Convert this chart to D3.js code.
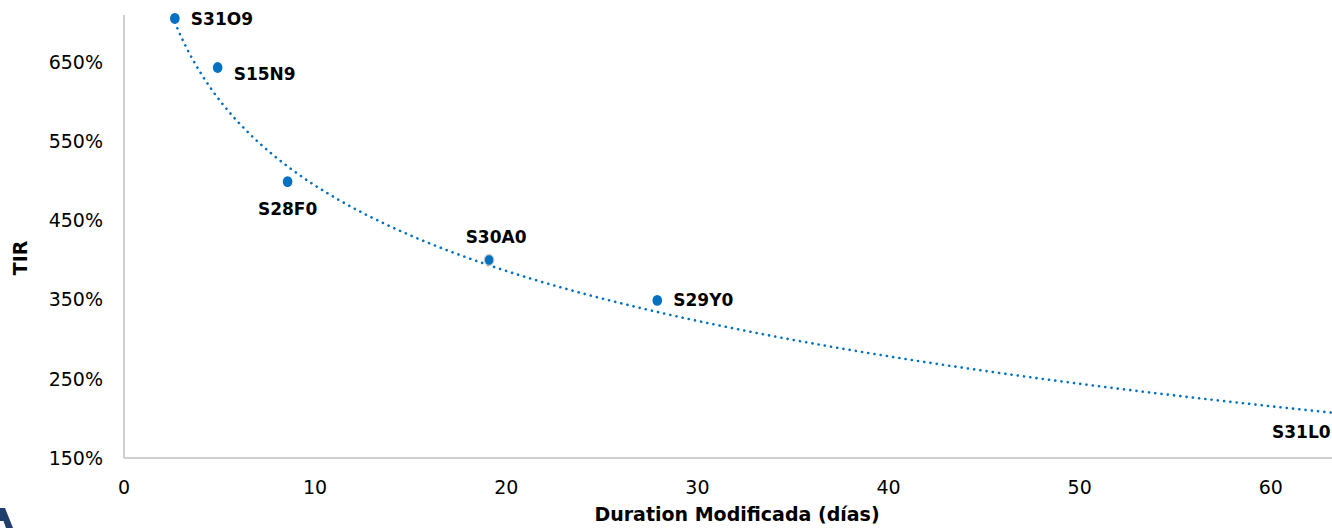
<!DOCTYPE html>
<html>
<head>
<meta charset="utf-8">
<script src="https://cdn.jsdelivr.net/npm/d3@7"></script>
<style>
  body { margin: 0; background: #fff; }
  svg { display: block; }
</style>
</head>
<body>
<div id="chart"></div>
<script>
// bonds: duration (days) vs TIR (%)
var bond_names = ["S31O9", "S15N9", "S28F0", "S30A0", "S29Y0", "S31L0"];
var durations  = [2.66, 4.9, 8.56, 19.1, 27.9, 64.8];
var tir_values = [705, 643, 499, 400, 349, 183];
// where each label sits relative to its point
var label_pos  = ["right", "right", "below", "above", "right", "left"];

var x_ticks = [0, 10, 20, 30, 40, 50, 60];
var y_ticks = [150, 250, 350, 450, 550, 650];

// log trendline shown on the chart: TIR = a + b * ln(duration)
var trend_a = 852;
var trend_b = -155.5;

var width = 1332, height = 528;
var left = 124, right = 1332, top_ = 15, bottom = 458;
var blue = "#0070C0";
var axis_grey = "#BFBFBF";
var font = "'DejaVu Sans', Verdana, sans-serif";

var svg = d3.select("#chart").append("svg")
  .attr("width", width)
  .attr("height", height);

var x = d3.scaleLinear().domain([0, 63.2]).range([left, right]);
var y = d3.scaleLinear().domain([150, 709.3]).range([bottom, top_]);

svg.append("clipPath").attr("id", "plot_clip")
  .append("rect")
  .attr("x", left).attr("y", top_ - 10)
  .attr("width", right - left).attr("height", bottom - top_ + 10);

// axes lines
svg.append("line")
  .attr("x1", left).attr("x2", left)
  .attr("y1", top_).attr("y2", bottom)
  .attr("stroke", axis_grey).attr("stroke-width", 1.5);
svg.append("line")
  .attr("x1", left).attr("x2", right)
  .attr("y1", bottom).attr("y2", bottom)
  .attr("stroke", axis_grey).attr("stroke-width", 1.5);

// tick labels
svg.append("g").selectAll("text")
  .data(y_ticks)
  .enter().append("text")
  .attr("x", left - 21)
  .attr("y", function(d) { return y(d); })
  .attr("dy", "0.36em")
  .attr("text-anchor", "end")
  .style("font", "19px " + font)
  .attr("fill", "#000")
  .text(function(d) { return d + "%"; });

svg.append("g").selectAll("text")
  .data(x_ticks)
  .enter().append("text")
  .attr("x", function(d) { return x(d); })
  .attr("y", 487)
  .attr("dy", "0.36em")
  .attr("text-anchor", "middle")
  .style("font", "19px " + font)
  .attr("fill", "#000")
  .text(function(d) { return d; });

// axis titles
svg.append("text")
  .attr("x", 737)
  .attr("y", 521)
  .attr("text-anchor", "middle")
  .style("font", "bold 19px " + font)
  .attr("fill", "#000")
  .text("Duration Modificada (días)");

svg.append("text")
  .attr("transform", "translate(27,258) rotate(-90)")
  .attr("text-anchor", "middle")
  .style("font", "bold 19px " + font)
  .attr("fill", "#000")
  .text("TIR");

// trendline (dotted), from first to last bond, clipped to plot
var x_min = d3.min(durations), x_max = d3.max(durations);
var trend_pts = d3.range(0, 201).map(function(i) {
  var d = x_min + (x_max - x_min) * i / 200;
  return [d, trend_a + trend_b * Math.log(d)];
});
svg.append("path")
  .datum(trend_pts)
  .attr("clip-path", "url(#plot_clip)")
  .attr("fill", "none")
  .attr("stroke", blue)
  .attr("stroke-width", 2.6)
  .attr("stroke-linecap", "round")
  .attr("stroke-dasharray", "0.1,6.2")
  .attr("d", d3.line()
    .x(function(d) { return x(d[0]); })
    .y(function(d) { return y(d[1]); }));

// points
var bonds = bond_names.map(function(n, i) {
  return { name: n, dur: durations[i], tir: tir_values[i], pos: label_pos[i] };
});

svg.append("g")
  .attr("clip-path", "url(#plot_clip)")
  .selectAll("ellipse")
  .data(bonds)
  .enter().append("ellipse")
  .attr("cx", function(d) { return x(d.dur); })
  .attr("cy", function(d) { return y(d.tir); })
  .attr("rx", 4.8)
  .attr("ry", 5.4)
  .attr("fill", blue)
  .attr("stroke", function(d) { return d.name == "S30A0" ? "#c8c8c8" : "none"; })
  .attr("stroke-width", 1.2);

// data labels
svg.append("g").selectAll("text")
  .data(bonds)
  .enter().append("text")
  .attr("x", function(d) {
    var px = x(d.dur);
    if (d.pos == "right") return px + 16;
    if (d.pos == "left") return px - 32;
    if (d.pos == "above") return px + 7;
    return px;
  })
  .attr("y", function(d) {
    var py = y(d.tir);
    if (d.pos == "below") return py + 27;
    if (d.pos == "above") return py - 23;
    if (d.name == "S15N9") return py + 6;
    return py;
  })
  .attr("dy", "0.36em")
  .attr("text-anchor", function(d) {
    if (d.pos == "right") return "start";
    if (d.pos == "left") return "end";
    return "middle";
  })
  .style("font", "bold 17px " + font)
  .attr("fill", "#000")
  .text(function(d) { return d.name; });

// logo fragment bottom-left
svg.append("path")
  .attr("d", "M0,508 L5,508 L13,528 L6,528 L3.5,521 L0,521 Z")
  .attr("fill", "#1F3E6E");
</script>
</body>
</html>
